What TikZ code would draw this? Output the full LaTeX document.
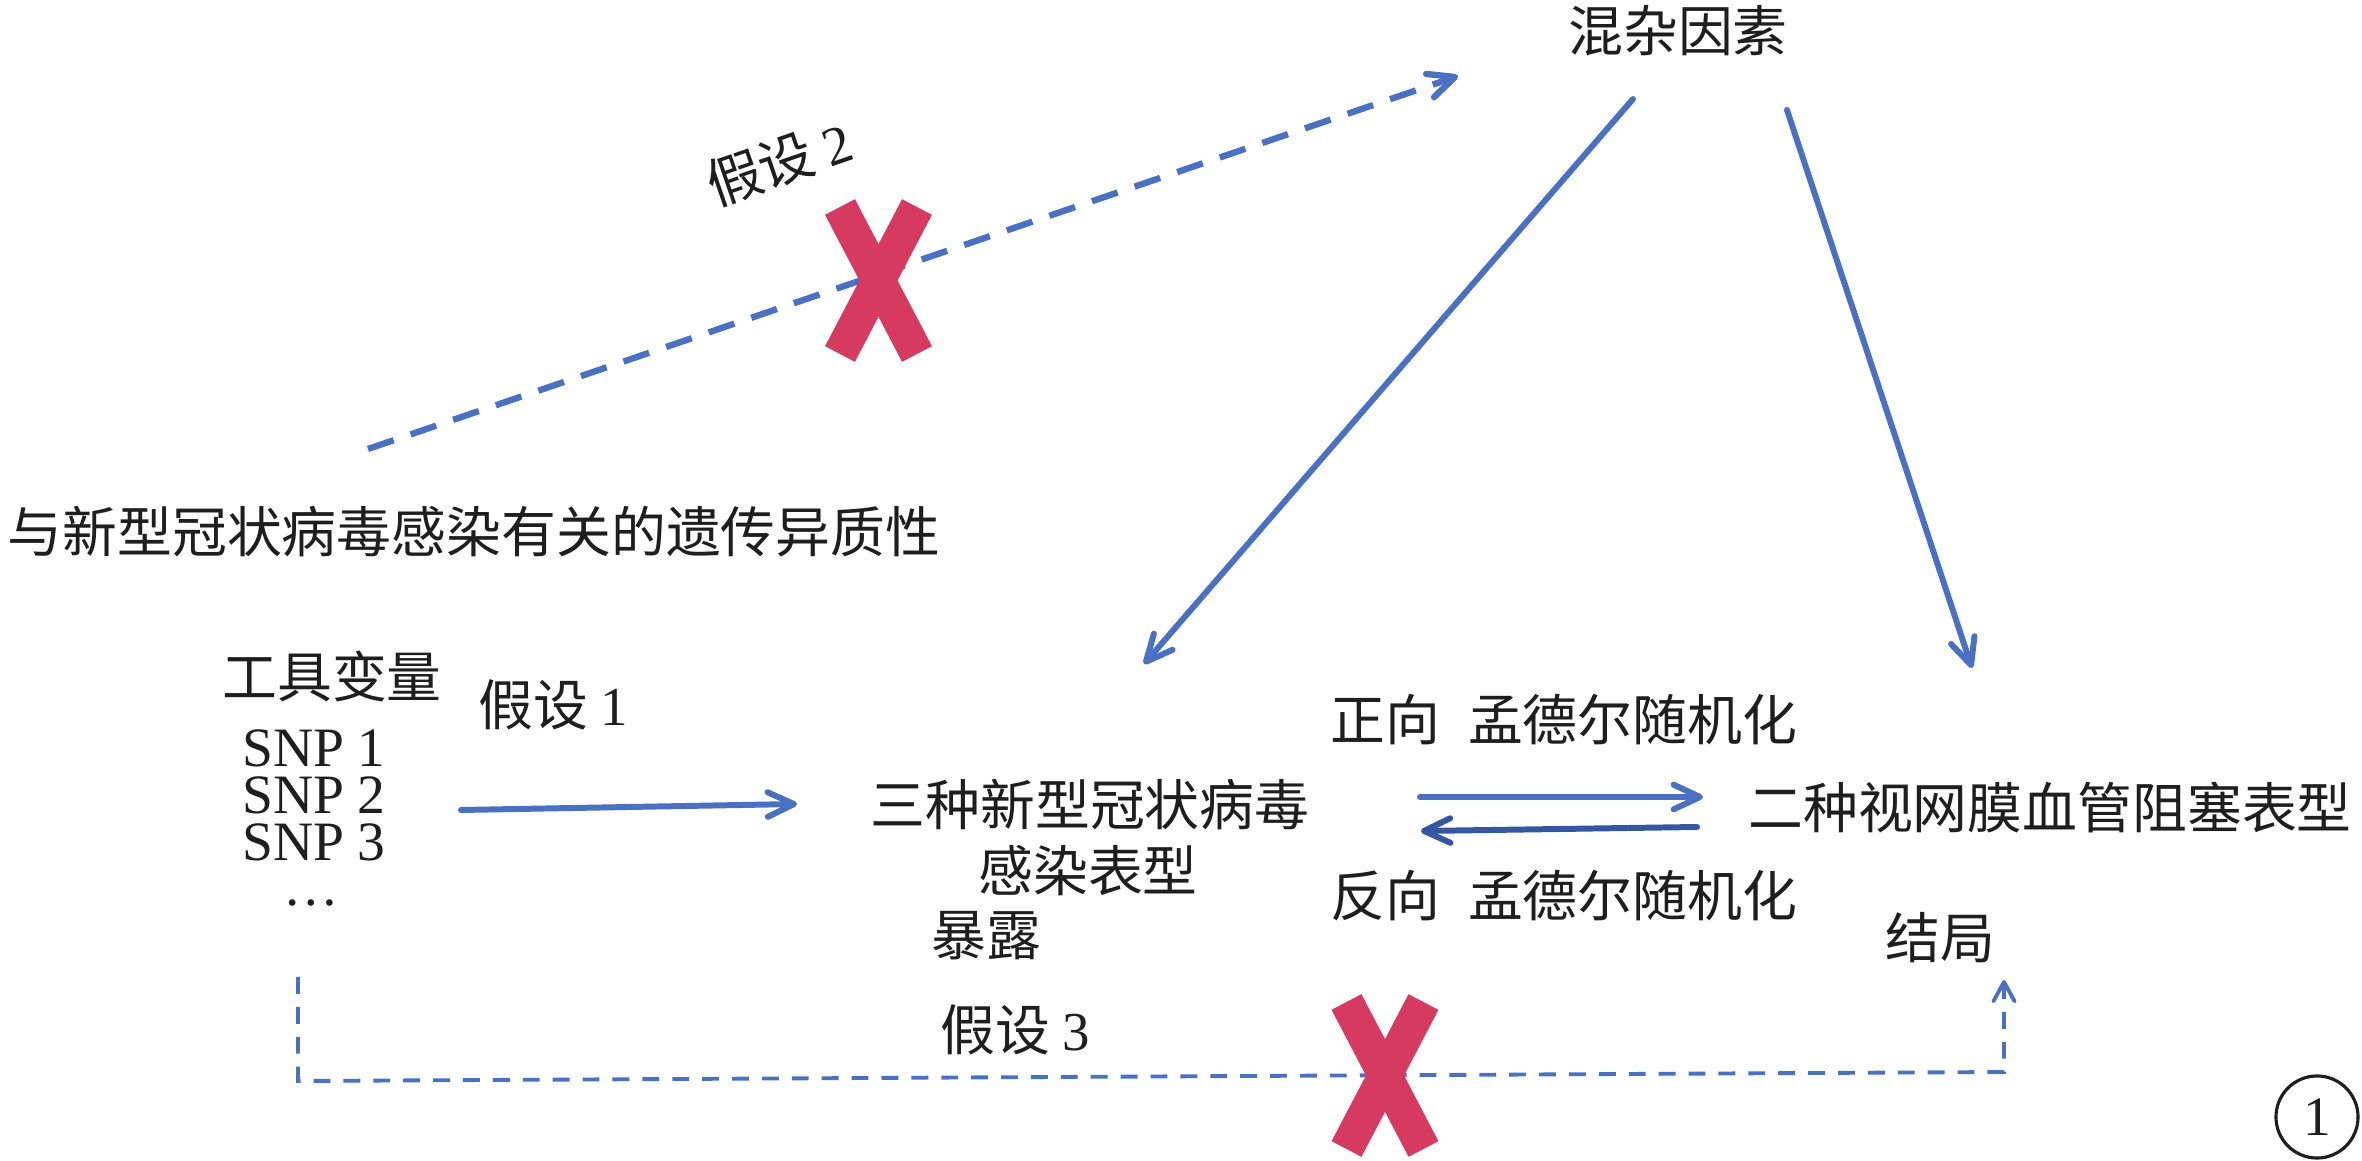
\documentclass[tikz,border=0pt]{standalone}
\usepackage{fontspec}
\setmainfont{Liberation Serif}
\newfontfamily\cjk{Noto Sans CJK SC}
\usetikzlibrary{arrows.meta}
\definecolor{lblue}{HTML}{4A70C2}
\definecolor{dblue}{HTML}{3556A0}
\definecolor{xred}{HTML}{D73A60}
\definecolor{ink}{HTML}{1E1E1E}
\tikzset{
  lbl/.style={inner sep=0pt, text=ink, font=\fontsize{15.6}{18}\selectfont\cjk},
  lat/.style={inner sep=0pt, text=ink, font=\fontsize{15.8}{18}\selectfont},
  snpline/.style={lat, anchor=base, text height=0.66em, text depth=0pt},
  barb/.style={-{Straight Barb[length=7.5pt,width=7pt,round]}},
  solidarrow/.style={draw=lblue, line width=1.7pt, line cap=round, barb},
  dasharrow/.style={draw=lblue, line width=1.8pt, dash pattern=on 7.7pt off 5.1pt, barb},
  thindash/.style={draw=lblue, line width=1.1pt, dash pattern=on 4.8pt off 3.7pt,
    -{Straight Barb[length=5.5pt,width=6pt,round]}},
  xbar/.style={draw=xred, line width=9.6pt}
}
\begin{document}
\begin{tikzpicture}[x=0.01cm,y=-0.01cm]
\useasboundingbox (0,0) rectangle (2362,1161);

% text nodes
\node[lbl] (conf) at (1678,31) {混杂因素};
\node[lbl, anchor=west] (het) at (7,532) {与新型冠状病毒感染有关的遗传异质性};
\node[lbl] (iv) at (332,676) {工具变量};
\node[snpline] (snp1) at (314,767) {SNP 1};
\node[snpline] (snp2) at (314,814) {SNP 2};
\node[snpline] (snp3) at (314,861) {SNP 3};
\node[lat, anchor=base, text height=0.1em, text depth=0pt] (dots) at (311,906) {…};
\node[lbl] (hyp1) at (553,705) {假设 {\rmfamily 1}};
\node[lbl] (exp1) at (1090,805) {三种新型冠状病毒};
\node[lbl] (exp2) at (1088,871) {感染表型};
\node[lbl] (expl) at (986,936) {暴露};
\node[lbl] (fwd) at (1564,720) {正向\hspace{0.5em}孟德尔随机化};
\node[lbl] (rev) at (1564,896) {反向\hspace{0.5em}孟德尔随机化};
\node[lbl] (out) at (2050,808) {二种视网膜血管阻塞表型};
\node[lbl] (outl) at (1940,938) {结局};
\node[lbl] (hyp3) at (1015,1030) {假设 {\rmfamily 3}};
\node[lbl, rotate=19] (hyp2) at (779,163) {假设 {\rmfamily 2}};
\node[lat, draw=ink, circle, line width=0.9pt, minimum size=0.82cm] (num) at (2317,1117) {1};

% connector end points
\coordinate (h2s) at (368,449);
\coordinate (h2e) at (1458,76);
\coordinate (c1s) at (1633,99);
\coordinate (c1e) at (1144,664);
\coordinate (c2s) at (1787,110);
\coordinate (c2e) at (1972,668);
\coordinate (s1) at (461,810);
\coordinate (s2) at (797,804);
\coordinate (f1) at (1420,797);
\coordinate (f2) at (1703,797);
\coordinate (r1) at (1697,827);
\coordinate (r2) at (1421,831);
\coordinate (b1) at (298,977);
\coordinate (b2) at (298,1081);
\coordinate (b3) at (2004,1072);
\coordinate (b4) at (2004,980);
\coordinate (x1) at (878.5,280.5);
\coordinate (x2) at (1385,1075.5);

% connectors
\draw[dasharrow] (h2s) -- (h2e);
\draw[solidarrow] (c1s) -- (c1e);
\draw[solidarrow] (c2s) -- (c2e);
\draw[solidarrow] (s1) -- (s2);
\draw[solidarrow] (f1) -- (f2);
\draw[solidarrow, draw=dblue] (r1) -- (r2);
\draw[thindash] (b1) -- (b2) -- (b3) -- (b4);

% red crosses
\draw[xbar, shift={(x1)}] (-38.5,-73.5) -- (38.5,73.5);
\draw[xbar, shift={(x1)}] (38.5,-73.5) -- (-38.5,73.5);
\draw[xbar, shift={(x2)}] (-38.5,-73.5) -- (38.5,73.5);
\draw[xbar, shift={(x2)}] (38.5,-73.5) -- (-38.5,73.5);
\end{tikzpicture}
\end{document}
